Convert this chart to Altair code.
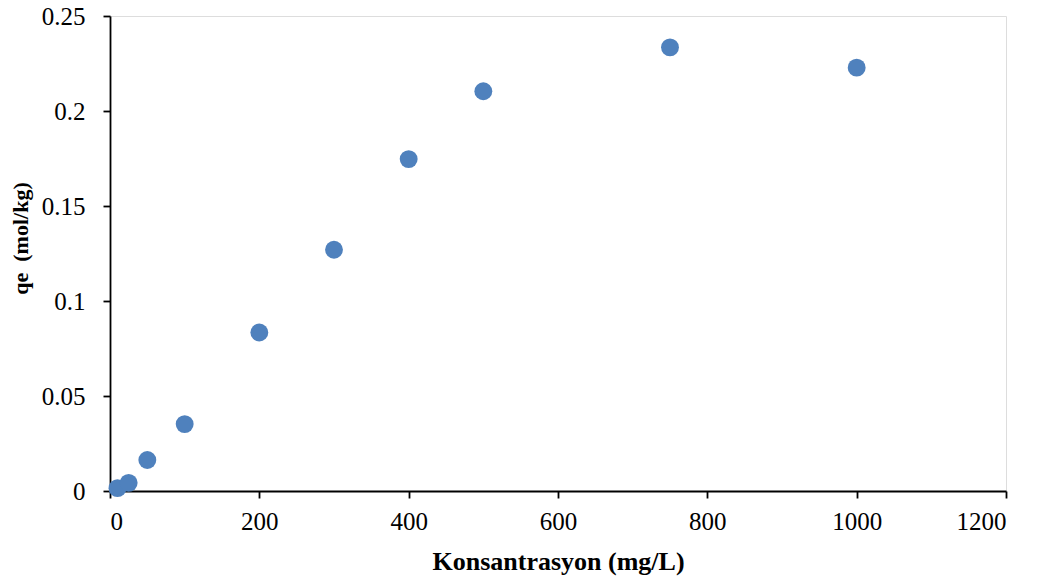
import altair as alt
import pandas as pd

konsantrasyon = [10, 25, 50, 100, 200, 300, 400, 500, 750, 1000]
qe = [0.0015, 0.0043, 0.0163, 0.0352, 0.0834, 0.127, 0.1747, 0.2104, 0.2335, 0.2228]

df = pd.DataFrame({"x": konsantrasyon, "y": qe})

FONT = "Times New Roman, Liberation Serif, DejaVu Serif, serif"

chart = alt.Chart(df).mark_circle(size=320, opacity=1, color="#4F81BD").encode(
    x=alt.X("x:Q",
            scale=alt.Scale(domain=[0, 1200], nice=False, zero=True),
            axis=alt.Axis(values=[0, 200, 400, 600, 800, 1000, 1200], format="d",
                          title="Konsantrasyon (mg/L)", grid=False,
                          tickSize=7, labelPadding=11, labelFontSize=25,
                          labelFont=FONT, labelColor="black",
                          titleFont=FONT, titleFontSize=26, titleFontWeight="bold",
                          titleColor="black", titleBaseline="alphabetic", titleY=78,
                          domainColor="black", tickColor="black",
                          domainWidth=1.8, tickWidth=1.8)),
    y=alt.Y("y:Q",
            scale=alt.Scale(domain=[0, 0.25], nice=False, zero=True),
            axis=alt.Axis(values=[0, 0.05, 0.1, 0.15, 0.2, 0.25], format="~g",
                          title="qe\u00a0\u00a0(mol/kg)", grid=False,
                          tickSize=7, labelPadding=18, labelFontSize=25,
                          labelFont=FONT, labelColor="black",
                          titleFont=FONT, titleFontSize=22, titleFontWeight="bold",
                          titleColor="black", titleX=-90, titleY=222,
                          titleBaseline="middle", titleAlign="center",
                          domainColor="black", tickColor="black",
                          domainWidth=1.8, tickWidth=1.8)),
).properties(
    width=896, height=475,
    autosize=alt.AutoSizeParams(type="none"),
    padding={"left": 102, "top": 8, "right": 28, "bottom": 90},
).configure_view(stroke="black", strokeWidth=1.8).configure(background="white")

chart.save("out.html", embed_options={"renderer": "svg", "actions": False})
